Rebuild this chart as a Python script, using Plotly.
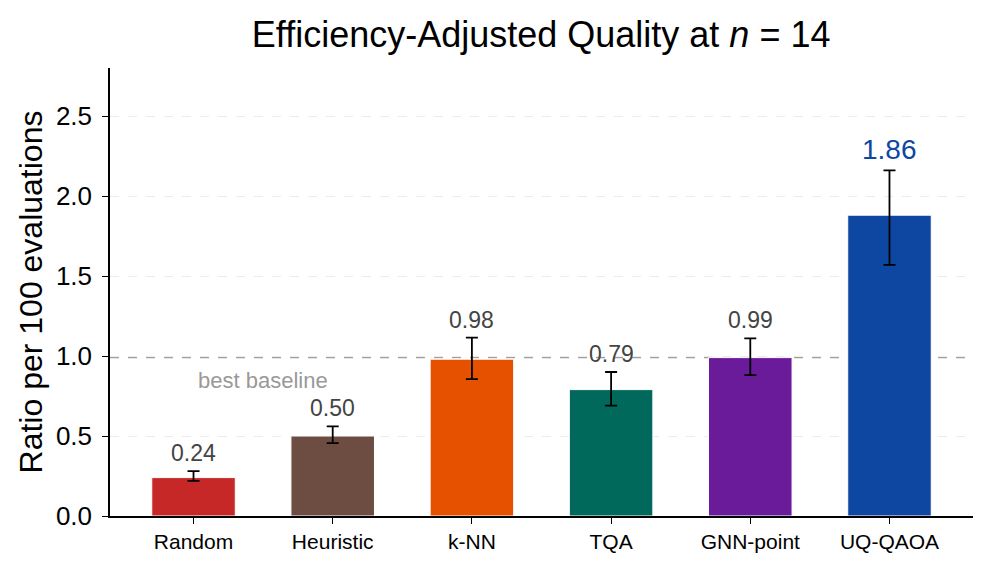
import plotly.graph_objects as go

methods = ["Random", "Heuristic", "k-NN", "TQA", "GNN-point", "UQ-QAOA"]
values = [0.24, 0.50, 0.98, 0.79, 0.99, 1.88]
err_plus = [0.04, 0.06, 0.135, 0.11, 0.12, 0.28]
err_minus = [0.02, 0.045, 0.125, 0.10, 0.11, 0.31]
label_texts = ["0.24", "0.50", "0.98", "0.79", "0.99", "1.86"]
colors = ["#c62828", "#6d4c41", "#e65100", "#00695c", "#6a1b9a", "#0d47a1"]
best_baseline = 0.99
y_ticks = [0.0, 0.5, 1.0, 1.5, 2.0, 2.5]

FONT = "Liberation Sans, Arial, Helvetica, sans-serif"

fig = go.Figure()
fig.add_trace(go.Bar(
    x=list(range(len(methods))), y=values, width=0.6,
    marker=dict(color=colors, line=dict(color="white", width=1)),
    error_y=dict(type="data", array=err_plus, arrayminus=err_minus,
                 color="black", thickness=1.8, width=6),
    showlegend=False, hoverinfo="skip",
))

fig.add_shape(type="line", xref="paper", x0=0, x1=1, y0=best_baseline, y1=best_baseline,
              line=dict(color="#a0a0a0", width=1.3, dash="dash"), layer="below")

for i, (v, ep, t) in enumerate(zip(values, err_plus, label_texts)):
    last = i == len(values) - 1
    fig.add_annotation(x=i, y=v + ep, text=t, showarrow=False, yanchor="bottom", yshift=3,
                       font=dict(family=FONT, size=28 if last else 23,
                                 color="#0d47a1" if last else "#444444"))

fig.add_annotation(x=0.5, y=0.85, text="best baseline", showarrow=False,
                   yanchor="middle", font=dict(family=FONT, size=22, color="#999999"))

fig.update_layout(
    width=992, height=572,
    margin=dict(l=110, r=19, t=68, b=56),
    plot_bgcolor="white", paper_bgcolor="white",
    font=dict(family=FONT, color="black"),
    title=dict(text="Efficiency-Adjusted Quality at <i>n</i> = 14", x=0.5455, xanchor="center",
               y=0.94, yanchor="middle", font=dict(family=FONT, size=36, color="black")),
    bargap=0.4,
)
fig.update_xaxes(
    tickmode="array", tickvals=list(range(len(methods))), ticktext=methods,
    range=[-0.6, 5.6], showline=True, linecolor="black", linewidth=1.5,
    ticks="outside", ticklen=6, tickcolor="black", tickfont=dict(size=21),
    showgrid=False, zeroline=False,
)
fig.update_yaxes(
    range=[0, 2.8], tickmode="array", tickvals=y_ticks,
    ticktext=[f"{v:.1f}" for v in y_ticks],
    showline=True, linecolor="black", linewidth=1.5,
    ticks="outside", ticklen=6, tickcolor="black", tickfont=dict(size=26),
    ticklabelstandoff=5,
    showgrid=True, gridcolor="#ececec", griddash="dash", gridwidth=1,
    zeroline=False,
    title=dict(text="Ratio per 100 evaluations", font=dict(size=32), standoff=4),
)

fig.write_html("out.html")
